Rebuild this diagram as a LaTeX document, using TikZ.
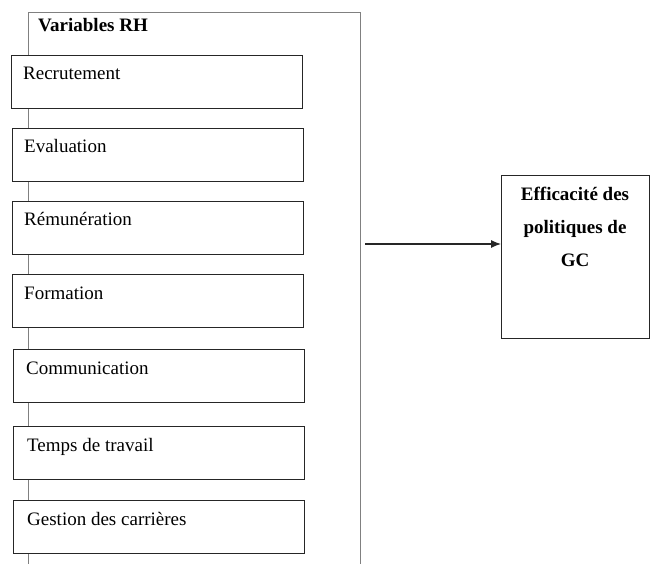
\documentclass[tikz,border=0pt]{standalone}
\usepackage{fontspec}
\setmainfont{Liberation Serif}
\usetikzlibrary{arrows.meta}
\begin{document}
\begin{tikzpicture}[x=1pt,y=-1pt,
  varbox/.style={draw=black!85, line width=1.1pt, fill=white, minimum width=291pt, minimum height=53pt, anchor=north west, inner sep=0pt},
  lbl/.style={anchor=base west, inner sep=0pt, font=\fontsize{19}{23}\selectfont},
  frameline/.style={draw=black!50, line width=1pt},
  conn/.style={draw=black!85, line width=1.1pt, -{Latex[length=10pt,width=8pt]}}]
\useasboundingbox (0,0) rectangle (651,564);
% frame
\coordinate (fTL) at (28,13);
\coordinate (fTR) at (360,13);
\coordinate (fBL) at (28,564);
\coordinate (fBR) at (360,564);
\draw[frameline] (fBL) -- (fTL) -- (fTR) -- (fBR);
\node[lbl, font=\fontsize{19}{23}\selectfont\bfseries] (title) at (38,32) {Variables RH};
% boxes
\node[varbox] (b1) at (11,55) {};
\node[lbl] (t1) at ([shift={(12,25)}]b1.north west) {Recrutement};
\node[varbox] (b2) at (12,128) {};
\node[lbl] (t2) at ([shift={(12,25)}]b2.north west) {Evaluation};
\node[varbox] (b3) at (12,201) {};
\node[lbl] (t3) at ([shift={(12,25)}]b3.north west) {Rémunération};
\node[varbox] (b4) at (12,274) {};
\node[lbl] (t4) at ([shift={(12,25)}]b4.north west) {Formation};
\node[varbox] (b5) at (13,349) {};
\node[lbl] (t5) at ([shift={(13,25)}]b5.north west) {Communication};
\node[varbox] (b6) at (13,426) {};
\node[lbl] (t6) at ([shift={(14,25)}]b6.north west) {Temps de travail};
\node[varbox] (b7) at (13,500) {};
\node[lbl] (t7) at ([shift={(14,25)}]b7.north west) {Gestion des carrières};
% result box
\node[draw=black!85, line width=1.1pt, minimum width=148pt, minimum height=163pt, anchor=north west, inner sep=0pt] (gc) at (501,175) {};
\node[anchor=north, inner sep=0pt, align=center, font=\fontsize{19}{33}\selectfont\bfseries] (gct) at (575,187) {Efficacité des\\politiques de\\GC};
% connector
\coordinate (src) at (365,244);
\draw[conn] (src) -- (gc.west |- src);
\end{tikzpicture}
\end{document}
